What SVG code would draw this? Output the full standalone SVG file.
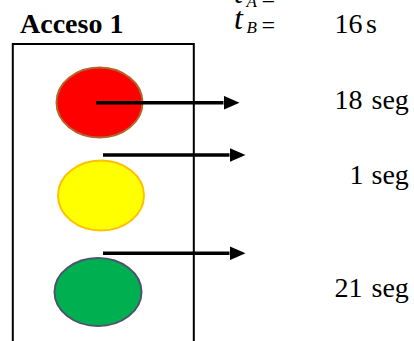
<svg xmlns="http://www.w3.org/2000/svg" width="414" height="341" viewBox="0 0 414 341">
  <style>
    .serif { font-family: 'Liberation Serif', 'Times New Roman', 'DejaVu Serif', serif; }
    .lbl { font-size: 28px; fill: #000; }
    .title { font-weight: bold; }
    .math { font-style: italic; fill: #000; }
    .conn { stroke: #000; stroke-width: 3.5; fill: none; marker-end: url(#ah); }
    .lamp { stroke-width: 2; }
  </style>
  <defs>
    <marker id="ah" markerWidth="16" markerHeight="14" refX="0" refY="7" orient="auto" markerUnits="userSpaceOnUse">
      <path d="M0,0 L16,7 L0,14 Z" fill="#000"/>
    </marker>
  </defs>
  <rect width="414" height="341" fill="#fff"/>

  <g id="title">
    <text class="serif lbl title" x="20" y="33">Acceso 1</text>
  </g>

  <g id="math">
    <text class="serif math" x="234" y="3" font-size="32">t</text>
    <text class="serif math" x="246.5" y="7" font-size="17">A</text>
    <text class="serif math" x="260" y="7" font-size="24" font-style="normal">=</text>
    <text class="serif math" x="234" y="29" font-size="32">t</text>
    <text class="serif math" x="246.5" y="33" font-size="17">B</text>
    <text class="serif math" x="260" y="33" font-size="24" font-style="normal">=</text>
  </g>

  <g id="housing">
    <path d="M12.8,341 V44 H193.8 V341" fill="none" stroke="#000" stroke-width="2"/>
  </g>

  <g id="red-light">
    <ellipse class="lamp" cx="99.5" cy="102.5" rx="43" ry="35" fill="#FF0000" stroke="#B0652A"/>
  </g>
  <g id="yellow-light">
    <ellipse class="lamp" cx="101" cy="195.5" rx="43" ry="35" fill="#FFFF00" stroke="#FFC000"/>
  </g>
  <g id="green-light">
    <ellipse class="lamp" cx="98" cy="292" rx="43.5" ry="34" fill="#00B050" stroke="#4A5570"/>
  </g>

  <g id="connectors">
    <line class="conn" x1="96" y1="102.7" x2="223.5" y2="102.7"/>
    <line class="conn" x1="103" y1="155" x2="229.5" y2="155"/>
    <line class="conn" x1="103" y1="253.3" x2="229.5" y2="253.3"/>
  </g>

  <g id="times">
    <text class="serif lbl" x="334.5" y="33.3">16</text>
    <text class="serif lbl" x="366" y="33.3">s</text>
    <text class="serif lbl" x="334.5" y="108.5">18</text>
    <text class="serif lbl" x="371.5" y="108.5">seg</text>
    <text class="serif lbl" x="349.5" y="184">1</text>
    <text class="serif lbl" x="371.5" y="184">seg</text>
    <text class="serif lbl" x="334.5" y="297.3">21</text>
    <text class="serif lbl" x="371.5" y="297.3">seg</text>
  </g>
</svg>
